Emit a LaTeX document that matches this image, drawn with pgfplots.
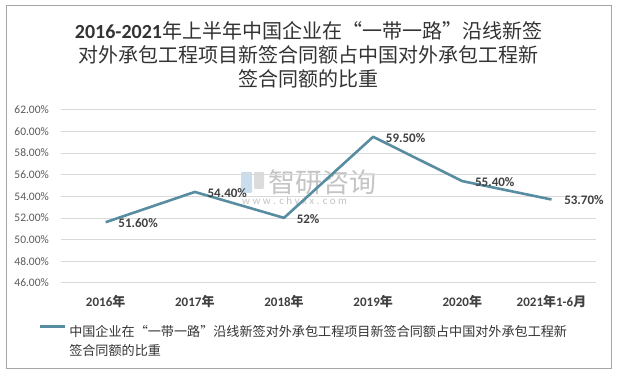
\documentclass[border=0pt]{standalone}
\usepackage{pgfplots}
\pgfplotsset{compat=1.18}
\usepackage{fontspec}
\setmainfont{Carlito}
\newfontfamily\cjk{Noto Sans CJK SC}
\definecolor{linec}{HTML}{588CA1}
\definecolor{gridc}{HTML}{D9D9D9}
\definecolor{tickc}{HTML}{595959}
\definecolor{txtc}{HTML}{404040}
\definecolor{titlec}{HTML}{333333}
\definecolor{borderc}{HTML}{A6A6A6}
\definecolor{wmc}{HTML}{C4C4C4}
\definecolor{wmb}{HTML}{C9DDEE}
\newcommand{\yr}[1]{\textbf{#1}{\cjk\bfseries 年}}
\begin{document}
\begin{tikzpicture}[x=1pt,y=1pt]
\path[use as bounding box] (0,0) rectangle (619,379);
\draw[borderc, line width=1pt] (6,10) rectangle (611,373);
\node[align=center, text=titlec, font=\fontsize{20}{24}\selectfont] at (308.5,324)
 {\textbf{2016-2021}{\cjk 年上半年中国企业在“一带一路”沿线新签}\\{\cjk 对外承包工程项目新签合同额占中国对外承包工程新}\\{\cjk 签合同额的比重}};
% watermark
\fill[wmb, rounded corners=1pt] (241,186) rectangle (252,207);
\fill[wmc!60, rounded corners=1pt] (254,190) rectangle (264,207);
\node[text=wmc, font=\cjk\fontsize{27}{27}\selectfont, anchor=west, inner sep=0pt] at (268,197) {智研咨询};
\node[text=wmc, font=\fontsize{11}{11}\selectfont, anchor=west, inner sep=0pt] at (242,177) {w w w . c h y x x . c o m};
\begin{axis}[
  at={(68.5,89)}, anchor=south west, scale only axis,
  width=535pt, height=173pt,
  xmin=-0.5, xmax=5.5, ymin=46, ymax=62,
  ytick={46,48,...,62},
  xtick={0,...,5},
  xticklabels={\yr{2016},\yr{2017},\yr{2018},\yr{2019},\yr{2020},{\textbf{2021}{\cjk\bfseries 年}\textbf{1-6}{\cjk\bfseries 月}}},
  ymajorgrids, grid style={gridc, line width=0.75pt},
  axis line style={draw=none}, tick style={draw=none}, major tick length=0pt,
  /pgf/number format/assume math mode=true,
  yticklabel={\pgfmathprintnumber[fixed,fixed zerofill,precision=2]{\tick}\%},
  yticklabel style={anchor=east, inner sep=0pt, xshift=-12pt, font=\fontsize{11.5}{11.5}\selectfont, text=tickc},
  xticklabel style={anchor=base, inner sep=0pt, yshift=-23.5pt, font=\fontsize{13}{13}\selectfont, text=txtc},
  clip=false,
  legend style={at={(axis description cs:0,0)}, anchor=north west, xshift=-23pt, yshift=-42pt,
    draw=none, fill=none, inner sep=0pt, font=\cjk\fontsize{13.1}{19}\selectfont, text=titlec,
    nodes={inner sep=0pt}, /tikz/every odd column/.append style={column sep=3pt}},
  legend image code/.code={\draw[#1, line width=3pt] (0pt,4.5pt) -- (25pt,4.5pt);},
]
\addplot[linec, line width=2.6pt, line join=round, mark=none,
  nodes near coords, point meta=explicit symbolic,
  every node near coord/.append style={anchor=west, inner sep=0pt, xshift=11.5pt, yshift=-1pt,
    font=\bfseries\fontsize{13}{13}\selectfont, text=txtc}]
 coordinates {
 (0,51.6) [51.60\%]
 (1,54.4) [54.40\%]
 (2,52.0) [52\%]
 (3,59.5) [59.50\%]
 (4,55.4) [55.40\%]
 (5,53.7) [53.70\%]
 };
\addlegendentry{\parbox[t]{540pt}{中国企业在“一带一路”沿线新签对外承包工程项目新签合同额占中国对外承包工程新\\签合同额的比重}}
\end{axis}
\end{tikzpicture}
\end{document}
